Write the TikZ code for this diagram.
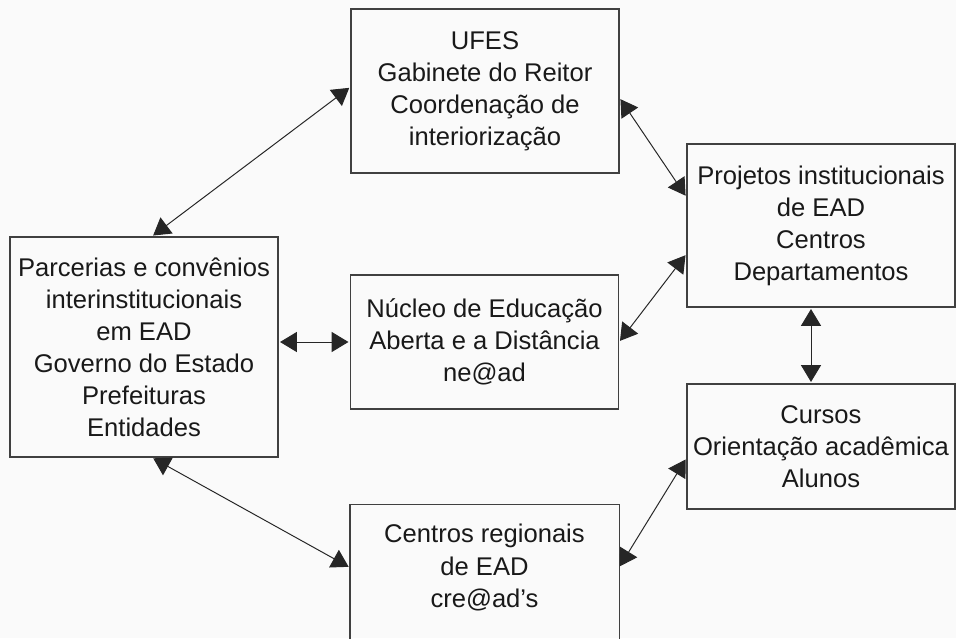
\documentclass[tikz,border=0pt]{standalone}
\usepackage{fontspec}
\setmainfont{Liberation Sans}
\usetikzlibrary{arrows.meta}

\begin{document}
\begin{tikzpicture}[
  caixa/.style={rectangle, draw=black!75, line width=0.9pt, text=black!90,
    align=center, inner sep=1pt, minimum width=6.7cm,
    font=\fontsize{18.2}{22.8}\selectfont},
  seta/.style={<->, >={Triangle[length=0.42cm, width=0.5cm]},
    line width=0.7pt, draw=black!85, shorten <=1pt, shorten >=1pt}]
\fill[black!2] (0,0) rectangle (23.9,15.95);
\useasboundingbox (0,0) rectangle (23.9,15.95);

\node[caixa, minimum height=4.1cm] (ufes) at (12.125,13.675)
  {UFES\\Gabinete do Reitor\\Coordenação de\\interiorização};
\node[caixa, minimum height=5.5cm] (parc) at (3.6,7.275)
  {Parcerias e convênios\\interinstitucionais\\em EAD\\Governo do Estado\\Prefeituras\\Entidades};
\node[caixa, minimum height=3.35cm] (nucleo) at (12.1125,7.4)
  {Núcleo de Educação\\Aberta e a Distância\\ne@ad};
\node[caixa, minimum height=4.075cm] (proj) at (20.525,10.3125)
  {Projetos institucionais\\de EAD\\Centros\\Departamentos};
\node[caixa, minimum height=3.125cm] (cursos) at (20.525,4.7875)
  {Cursos\\Orientação acadêmica\\Alunos};
\node[caixa, draw=none, minimum height=3.125cm] (cread) at (12.1125,1.7625)
  {Centros regionais\\de EAD\\cre@ad’s};
% caixa aberta embaixo
\draw[black!75, line width=0.9pt] ([yshift=-1cm]cread.south west) -- (cread.north west)
  -- (cread.north east) -- ([yshift=-1cm]cread.south east);

\draw[seta] ([xshift=0.2cm]parc.north) -- ([yshift=0.1cm]ufes.west);
\draw[seta] ([yshift=-0.175cm]ufes.east) -- (proj.168);
\draw[seta] (nucleo.east) -- (proj.192);
\draw[seta] (parc.east |- nucleo.west) -- (nucleo.west);
\draw[seta] ([xshift=0.2cm]parc.south) -- (cread.west);
\draw[seta] (cread.east) -- (cursos.185);
\draw[seta] ([xshift=-0.25cm]proj.south) -- ([xshift=-0.25cm]cursos.north);

\end{tikzpicture}
\end{document}
